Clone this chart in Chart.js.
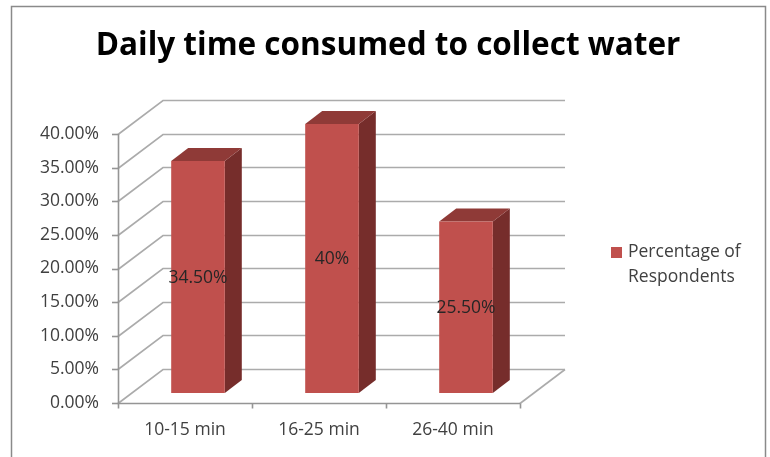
<!DOCTYPE html>
<html>
<head>
<meta charset="utf-8">
<script src="https://cdn.jsdelivr.net/npm/chart.js@4.4.1/dist/chart.umd.min.js"></script>
<style>
html,body{margin:0;padding:0;background:#fff;}
canvas{display:block;}
</style>
</head>
<body>
<canvas id="c" width="770" height="457"></canvas>
<script>
// ---- data ----
const categories = ['10-15 min', '16-25 min', '26-40 min'];
const percentages = [34.5, 40, 25.5];
const dataLabels = ['34.50%', '40%', '25.50%'];
const seriesName = 'Percentage of Respondents';
const legendLines = ['Percentage of', 'Respondents'];
const titleText = 'Daily time consumed to collect water';
const yMin = 0, yMax = 40, yStep = 5;

// ---- style ----
const FONT = "'Open Sans', 'Liberation Sans', sans-serif";
const WALL = {dx: 45, dy: -34};
const BAR_OFF = {dx: 13, dy: -10};
const BAR_DEPTH = {dx: 17, dy: -13};
const COL_FRONT = '#C0504D', COL_TOP = '#8F3A37', COL_SIDE = '#762D2B';
const GRID = '#ABABAB', AXIS = '#959595', TEXT = '#404040';

const threeD = {
  id: 'threeD',
  beforeDraw(chart) {
    const ctx = chart.ctx;
    ctx.save();
    ctx.fillStyle = '#fff';
    ctx.fillRect(0, 0, chart.width, chart.height);
    ctx.strokeStyle = '#8A8A8A';
    ctx.lineWidth = 1.5;
    ctx.beginPath();
    ctx.moveTo(11.5, 470); ctx.lineTo(11.5, 6.5); ctx.lineTo(765.5, 6.5); ctx.lineTo(765.5, 470);
    ctx.stroke();
    ctx.restore();
  },
  beforeDatasetsDraw(chart) {
    const {ctx, chartArea: a, scales: {x, y}} = chart;
    ctx.save();
    ctx.lineWidth = 1.6;
    ctx.strokeStyle = GRID;
    y.ticks.forEach(t => {
      const py = Math.round(y.getPixelForValue(t.value)) + 0.5;
      ctx.beginPath();
      ctx.moveTo(a.left, py);
      ctx.lineTo(a.left + WALL.dx, py + WALL.dy);
      ctx.lineTo(a.right + WALL.dx, py + WALL.dy);
      ctx.stroke();
    });
    // floor right edge
    const by = Math.round(a.bottom) + 0.5;
    ctx.beginPath();
    ctx.moveTo(a.right, by);
    ctx.lineTo(a.right + WALL.dx, by + WALL.dy);
    ctx.stroke();
    // axes
    ctx.strokeStyle = AXIS;
    ctx.beginPath();
    ctx.moveTo(a.left + 0.5, a.top);
    ctx.lineTo(a.left + 0.5, by);
    ctx.lineTo(a.right, by);
    ctx.stroke();
    // y tick marks
    y.ticks.forEach(t => {
      const py = Math.round(y.getPixelForValue(t.value)) + 0.5;
      ctx.beginPath();
      ctx.moveTo(a.left - 6, py);
      ctx.lineTo(a.left, py);
      ctx.stroke();
    });
    // x tick marks at category boundaries
    const n = categories.length;
    for (let i = 0; i <= n; i++) {
      const px = Math.round(a.left + (a.right - a.left) * i / n) + 0.5;
      ctx.beginPath();
      ctx.moveTo(px, by);
      ctx.lineTo(px, by + 5);
      ctx.stroke();
    }
    ctx.restore();
  },
  beforeDatasetDraw(chart, args) {
    if (args.meta.type !== 'bar') return;
    const ctx = chart.ctx;
    ctx.save();
    args.meta.data.forEach(el => {
      const l = el.x - el.width / 2 + BAR_OFF.dx;
      const r = l + el.width;
      const t = el.y + BAR_OFF.dy;
      const b = el.base + BAR_OFF.dy;
      // side
      ctx.fillStyle = COL_SIDE;
      ctx.beginPath();
      ctx.moveTo(r, t); ctx.lineTo(r + BAR_DEPTH.dx, t + BAR_DEPTH.dy);
      ctx.lineTo(r + BAR_DEPTH.dx, b + BAR_DEPTH.dy); ctx.lineTo(r, b);
      ctx.closePath(); ctx.fill();
      // top
      ctx.fillStyle = COL_TOP;
      ctx.beginPath();
      ctx.moveTo(l, t); ctx.lineTo(r, t);
      ctx.lineTo(r + BAR_DEPTH.dx, t + BAR_DEPTH.dy); ctx.lineTo(l + BAR_DEPTH.dx, t + BAR_DEPTH.dy);
      ctx.closePath(); ctx.fill();
      // front
      ctx.fillStyle = COL_FRONT;
      ctx.fillRect(l, t, r - l, b - t);
    });
    ctx.restore();
    return false;
  },
  afterDatasetsDraw(chart) {
    const ctx = chart.ctx;
    const meta = chart.getDatasetMeta(0);
    ctx.save();
    ctx.font = "17.5px " + FONT;
    ctx.fillStyle = '#262626';
    ctx.textAlign = 'center';
    ctx.textBaseline = 'middle';
    meta.data.forEach((el, i) => {
      ctx.fillText(dataLabels[i], el.x + BAR_OFF.dx, (el.y + el.base) / 2 + BAR_OFF.dy + 1);
    });
    // legend
    ctx.fillStyle = COL_FRONT;
    ctx.fillRect(611, 247, 11, 11);
    ctx.fillStyle = TEXT;
    ctx.textAlign = 'left';
    ctx.fillText(legendLines[0], 628, 252);
    ctx.fillText(legendLines[1], 628, 277);
    ctx.restore();
  }
};

new Chart(document.getElementById('c'), {
  type: 'bar',
  data: {
    labels: categories,
    datasets: [{label: seriesName, data: percentages, backgroundColor: COL_FRONT,
      barPercentage: 0.4, categoryPercentage: 1}]
  },
  options: {
    responsive: false,
    animation: false,
    layout: {padding: {left: 10, right: 4, top: 0, bottom: 0}},
    plugins: {
      legend: {display: false},
      tooltip: {enabled: false},
      title: {display: true, text: titleText, color: '#000',
        font: {family: FONT, size: 31.5, weight: 'bold'}, padding: {top: 27.5, bottom: 68.7}}
    },
    scales: {
      x: {
        grid: {display: false, drawTicks: false}, border: {display: false},
        ticks: {color: TEXT, font: {family: FONT, size: 17.5}, padding: 17, maxRotation: 0},
        afterFit(s) { s.height = 54; }
      },
      y: {
        min: yMin, max: yMax,
        grid: {display: false, drawTicks: false}, border: {display: false},
        ticks: {stepSize: yStep, color: TEXT, font: {family: FONT, size: 17.5}, padding: 19,
          callback: v => v.toFixed(2) + '%'},
        afterFit(s) { s.width = 108; }
      },
      legendSpace: {
        type: 'linear', position: 'right', display: true,
        grid: {display: false, drawTicks: false}, border: {display: false},
        ticks: {display: false},
        afterFit(s) { s.width = 246; }
      }
    }
  },
  plugins: [threeD]
});
</script>
</body>
</html>
